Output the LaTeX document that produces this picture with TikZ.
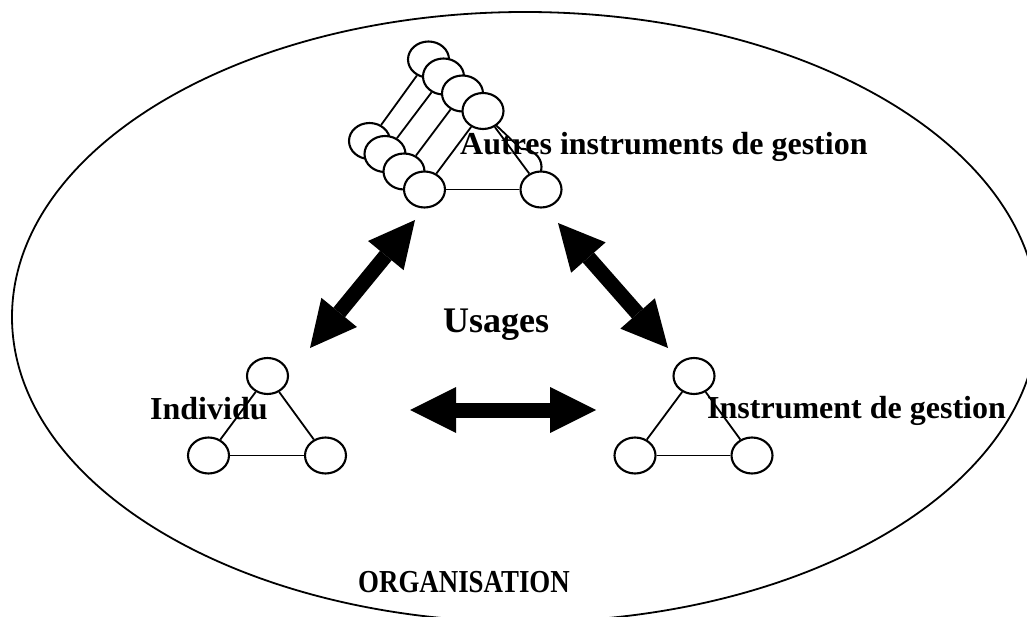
\documentclass[tikz,border=0pt]{standalone}
\usepackage{fontspec}
\setmainfont{Liberation Serif}
\usepackage{graphicx}
\usetikzlibrary{shapes.geometric,arrows.meta}
\tikzset{
  ell/.style={ellipse, draw, fill=white, line width=2.1pt, minimum width=41pt, minimum height=36pt, inner sep=0pt},
  ghost/.style={ellipse, minimum width=41pt, minimum height=36pt, inner sep=0pt},
  link/.style={line width=1.8pt},
  lbl/.style={anchor=base west, inner sep=0pt, font=\bfseries\fontsize{32}{38}\selectfont},
  bigarrow/.style={line width=15pt, {Triangle[width=46pt,length=46pt,line width=0pt]}-{Triangle[width=46pt,length=46pt,line width=0pt]}}
}
\begin{document}
\begin{tikzpicture}[x=1pt,y=-1pt]
\clip (0,0) rectangle (1027,617);
\fill[white] (0,0) rectangle (1027,617);
% organisation
\draw[line width=1.8pt] (525,317) ellipse [x radius=513pt, y radius=305pt];
% stacked triangle (Autres instruments de gestion)
\node[ell] (T3) at (428.5,59.5) {};
\node[ell] (L3) at (369.5,141) {};
\draw[link] (T3) -- (L3);
\node[ell] (T2) at (443.5,76.5) {};
\node[ell] (L2) at (385,154) {};
\draw[link] (T2) -- (L2);
\node[ghost] (R1) at (521,167) {};
\node[ell] (T1) at (462.5,93.5) {};
\node[ell] (L1) at (404,171.5) {};
\draw[link] (T1) -- (L1);
\draw[link] (T1) -- (R1.north);
\draw[line width=2.1pt] (R1.north) arc[start angle=90, end angle=-40, x radius=20.5pt, y radius=18pt];
\node[ell] (T0) at (483,111) {};
\node[ell] (L0) at (424.5,189.5) {};
\node[ell] (R0) at (541,189.5) {};
\draw[link] (T0) -- (L0);
\draw[link] (T0) -- (R0);
\draw[link] (L0) -- (R0);
% individu
\node[ell] (IT) at (267.5,376) {};
\node[ell] (IL) at (208.5,455.5) {};
\node[ell] (IR) at (325.5,455.5) {};
\draw[link] (IT) -- (IL);
\draw[link] (IT) -- (IR);
\draw[link] (IL) -- (IR);
% instrument de gestion
\node[ell] (GT) at (694,376) {};
\node[ell] (GL) at (635,455.5) {};
\node[ell] (GR) at (752,455.5) {};
\draw[link] (GT) -- (GL);
\draw[link] (GT) -- (GR);
\draw[link] (GL) -- (GR);
% arrows
\coordinate (a1) at (310,348);
\coordinate (a2) at (415,220);
\coordinate (b1) at (558,223);
\coordinate (b2) at (668,348);
\coordinate (c1) at (410,410);
\coordinate (c2) at (596,410);
\draw[bigarrow] (a1) -- (a2);
\draw[bigarrow] (b1) -- (b2);
\draw[bigarrow] (c1) -- (c2);
% labels
\node[lbl] (tAutres) at (460,155) {Autres instruments de gestion};
\node[lbl] (tInd) at (150,419) {Individu};
\node[lbl] (tInst) at (707,418) {Instrument de gestion};
\node[lbl, font=\bfseries\fontsize{36}{42}\selectfont] (tUs) at (443,332) {Usages};
\node[lbl] (tOrg) at (358,592) {\scalebox{0.84}[1]{ORGANISATION}};
\end{tikzpicture}
\end{document}
